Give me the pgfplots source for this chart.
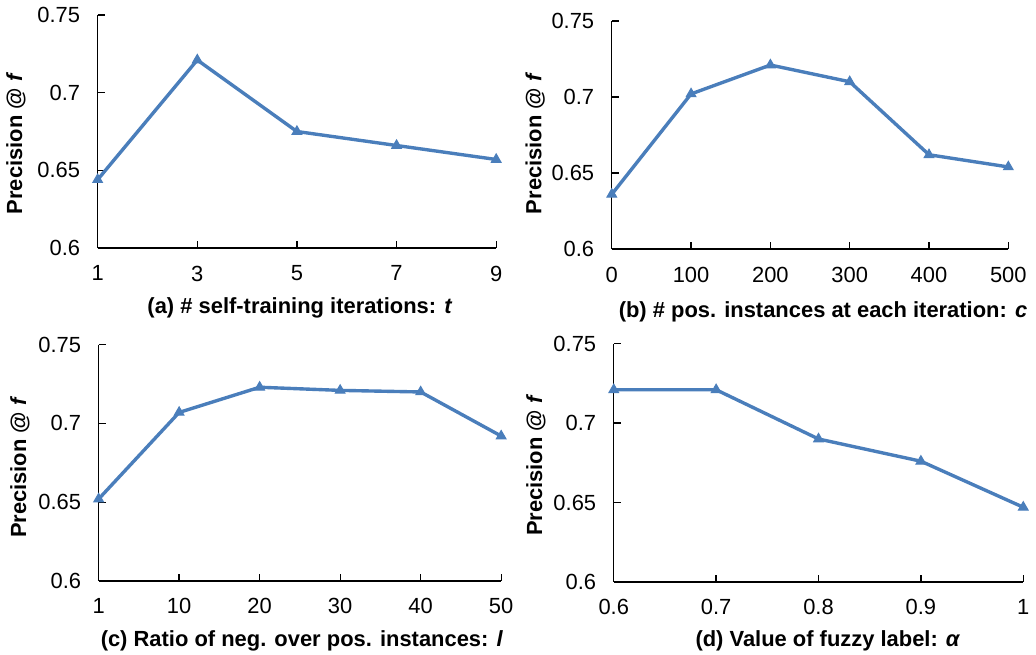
\documentclass[border=0pt]{standalone}
\usepackage{fontspec}
\setmainfont{Liberation Sans}
\usepackage{pgfplots}
\pgfplotsset{compat=1.18}
\definecolor{serblue}{RGB}{74,126,187}
\pgfplotsset{
  myax/.style={
    scale only axis,
    anchor=south west,
    clip=false,
    axis x line=bottom,
    axis y line=left,
    axis line style={-, black, line width=0.65pt},
    tick style={black, line width=0.65pt},
    tick align=inside,
    major tick length=3.5pt,
    ymin=0.6, ymax=0.75,
    ytick={0.6,0.65,0.7,0.75},
    yticklabels={0.6,0.65,0.7,0.75},
    ticklabel style={font=\fontsize{11}{13}\selectfont},
    yticklabel style={anchor=east, xshift=-5.3pt},
    xticklabel style={anchor=north, yshift=-5.4pt},
    /pgf/number format/assume math mode=true,
    label style={font=\fontsize{11}{13}\selectfont\bfseries, inner sep=0pt},
    xlabel style={anchor=north},
    ylabel style={anchor=center, rotate=0},
  },
  myline/.style={color=serblue, line width=1.7pt, mark=triangle*, mark size=2.8pt, mark options={solid, fill=serblue, draw=serblue, line width=0.5pt}},
}
\begin{document}
\begin{tikzpicture}
\path (0,0) rectangle (518pt,328.5pt);
% (a)
\begin{axis}[myax, at={(49pt,204pt)}, width=200pt, height=117pt,
  xmin=1, xmax=9, xtick={1,3,5,7,9},
  xlabel={(a) \# self-training iterations: \textit{t}},
  ylabel={Precision @ \textit{f}},
  xlabel style={at={(axis description cs:0.5075,-0.2094)}},
  ylabel style={at={(axis description cs:-0.205,0.4487)}},
]
\addplot[myline] coordinates {(1,0.644) (3,0.721) (5,0.675) (7,0.666) (9,0.657)};
\end{axis}
% (b)
\begin{axis}[myax, at={(307pt,203.5pt)}, width=199pt, height=114.5pt,
  xmin=0, xmax=500, xtick={0,100,200,300,400,500},
  xlabel={(b) \# pos. instances at each iteration: \textit{c}},
  ylabel={Precision @ \textit{f}},
  xlabel style={at={(axis description cs:0.5327,-0.227)}},
  ylabel style={at={(axis description cs:-0.1935,0.4629)}},
]
\addplot[myline] coordinates {(0,0.636) (100,0.702) (200,0.721) (300,0.710) (400,0.662) (500,0.654)};
\end{axis}
% (c)
\begin{axis}[myax, at={(49.5pt,37pt)}, width=202pt, height=118.5pt,
  xmin=0, xmax=5, xtick={0,1,2,3,4,5}, xticklabels={1,10,20,30,40,50},
  xlabel={(c) Ratio of neg. over pos. instances: \textit{l}},
  ylabel={Precision @ \textit{f}},
  xlabel style={at={(axis description cs:0.505,-0.211)}},
  ylabel style={at={(axis description cs:-0.1955,0.481)}},
]
\addplot[myline] coordinates {(0,0.652) (1,0.707) (2,0.723) (3,0.721) (4,0.720) (5,0.692)};
\end{axis}
% (d)
\begin{axis}[myax, at={(308pt,36.5pt)}, width=205.5pt, height=119.5pt,
  xmin=0.6, xmax=1, xtick={0.6,0.7,0.8,0.9,1}, xticklabels={0.6,0.7,0.8,0.9,1},
  xlabel={(d) Value of fuzzy label: \textit{α}},
  ylabel={Precision @ \textit{f}},
  xlabel style={at={(axis description cs:0.523,-0.205)}},
  ylabel style={at={(axis description cs:-0.19,0.4895)}},
]
\addplot[myline] coordinates {(0.6,0.721) (0.7,0.721) (0.8,0.690) (0.9,0.676) (1,0.647)};
\end{axis}
\end{tikzpicture}
\end{document}
